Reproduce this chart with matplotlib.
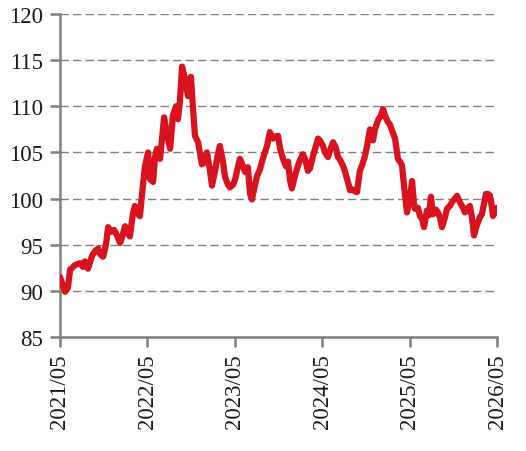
import matplotlib
matplotlib.use("Agg")
import matplotlib.pyplot as plt
import pandas as pd

start_date = "2021-05-01"
day_offsets = [0, 13, 21, 33, 42, 63, 84, 96, 104, 117, 134, 146, 159, 167, 180, 192, 201, 213, 226, 238,
               251, 259, 272, 284, 292, 305, 313, 326, 334, 343, 355, 368, 376, 389, 397, 405, 418, 435, 447, 460,
               472, 485, 493, 501, 510, 522, 535, 547, 556, 564, 577, 593, 606, 614, 627, 635, 648, 656, 668, 681,
               689, 702, 710, 723, 731, 744, 752, 765, 773, 785, 794, 802, 815, 823, 836, 844, 856, 865, 877, 890,
               898, 911, 919, 932, 944, 953, 961, 969, 982, 990, 1003, 1015, 1024, 1036, 1045, 1057, 1070, 1078, 1086, 1099,
               1107, 1120, 1128, 1141, 1153, 1161, 1170, 1182, 1191, 1203, 1212, 1220, 1232, 1241, 1253, 1262, 1274, 1283, 1295, 1308,
               1316, 1329, 1341, 1350, 1358, 1370, 1379, 1387, 1400, 1412, 1421, 1429, 1437, 1441, 1450, 1462, 1471, 1479, 1483, 1496,
               1504, 1513, 1521, 1533, 1542, 1550, 1558, 1571, 1579, 1588, 1596, 1609, 1617, 1629, 1638, 1650, 1659, 1671, 1684, 1692,
               1705, 1713, 1721, 1730, 1738, 1746, 1755, 1763, 1772, 1780, 1788, 1797, 1805, 1809, 1817, 1826]
values = [91.5, 90.5, 89.9, 90.3, 92.3, 92.8, 93.0, 92.6, 93.2, 92.4, 93.8, 94.3, 94.6, 94.0, 93.7, 95.0, 96.9, 96.4, 96.6, 96.0,
          95.2, 95.8, 97.0, 96.2, 95.9, 98.4, 99.2, 98.3, 98.1, 100.5, 103.5, 105.0, 102.1, 101.8, 104.5, 105.4, 104.3, 108.8, 107.0, 105.4,
          109.0, 110.0, 108.6, 110.5, 114.3, 113.0, 111.1, 113.2, 109.7, 106.8, 106.1, 103.7, 104.0, 105.0, 103.0, 101.4, 103.0, 104.3, 105.7, 104.0,
          102.4, 101.5, 101.2, 101.5, 102.0, 103.5, 104.3, 103.5, 102.9, 103.4, 100.5, 99.9, 101.5, 102.4, 103.2, 104.0, 105.0, 105.7, 107.2, 106.5,
          106.7, 106.8, 105.5, 104.3, 103.5, 104.0, 102.0, 101.1, 102.5, 103.2, 104.2, 104.8, 104.3, 103.0, 103.3, 104.6, 105.8, 106.5, 106.3, 105.7,
          105.0, 104.5, 105.2, 106.1, 105.5, 104.5, 104.2, 103.6, 102.9, 101.8, 100.9, 101.0, 100.8, 100.7, 103.0, 103.6, 104.6, 105.7, 107.5, 106.3,
          107.5, 108.5, 109.0, 109.7, 109.0, 108.3, 108.0, 107.4, 106.5, 104.3, 104.0, 103.6, 101.5, 100.5, 98.5, 100.0, 101.9, 99.5, 98.9, 99.0,
          98.1, 97.8, 96.9, 98.7, 98.2, 100.2, 98.3, 98.8, 98.5, 97.9, 96.9, 98.0, 98.9, 99.2, 99.6, 100.0, 100.3, 99.6, 99.0, 98.5,
          99.0, 99.2, 98.0, 96.0, 96.8, 97.4, 98.0, 98.3, 99.5, 100.5, 100.5, 100.3, 99.0, 98.1, 98.5, 99.0]

tick_dates = ["2021-05-01", "2022-05-01", "2023-05-01", "2024-05-01", "2025-05-01", "2026-05-01"]
tick_labels = ["2021/05", "2022/05", "2023/05", "2024/05", "2025/05", "2026/05"]
y_ticks = [85, 90, 95, 100, 105, 110, 115, 120]

dates = pd.Timestamp(start_date) + pd.to_timedelta(day_offsets, unit="D")

plt.rcParams['font.family'] = ['Liberation Serif', 'DejaVu Serif']

fig = plt.figure(figsize=(5.26, 4.52), dpi=100)
ax = fig.add_axes([60/526, 1-338/452, (497-60)/526, (338-15)/452])

gray = '#7f7f7f'
ax.plot(dates, values, color='#d9121f', linewidth=4.5, solid_joinstyle='round', solid_capstyle='round', zorder=3)

ax.set_xlim(pd.Timestamp(tick_dates[0]), pd.Timestamp(tick_dates[-1]))
ax.set_ylim(85, 120)
ax.set_yticks(y_ticks)
ax.set_xticks(pd.to_datetime(tick_dates))
ax.set_xticklabels(tick_labels, rotation=90)

ax.yaxis.grid(True, color=gray, linestyle=(0, (6, 3)), linewidth=1.0)
ax.set_axisbelow(True)
for s in ['top', 'right']:
    ax.spines[s].set_visible(False)
for s in ['left', 'bottom']:
    ax.spines[s].set_color(gray)
    ax.spines[s].set_linewidth(1.8)
ax.tick_params(axis='both', colors=gray, width=1.8, length=7, labelsize=16.5, labelcolor='#1a1a1a', pad=5)

fig.savefig("out.png", dpi=100)
